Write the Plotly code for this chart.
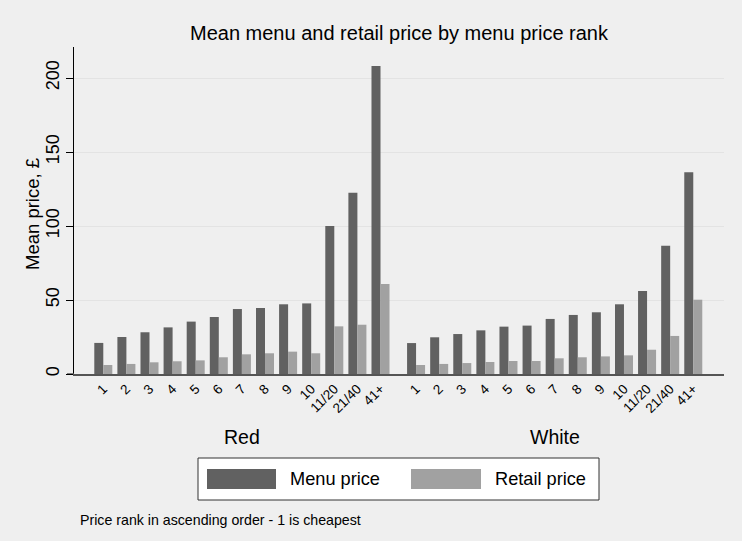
import plotly.graph_objects as go

# Price-rank categories shown along the axis
ranks = ["1", "2", "3", "4", "5", "6", "7", "8", "9", "10", "11/20", "21/40", "41+"]
groups = ["Red", "White"]

# Mean prices (£) by menu price rank
menu_red = [21.0, 25.0, 28.2, 31.5, 35.4, 38.5, 43.9, 44.6, 47.1, 47.7, 100.0, 122.5, 208.1]
retail_red = [6.1, 6.8, 7.9, 8.6, 9.2, 11.3, 13.3, 14.0, 15.1, 14.0, 32.2, 33.3, 60.8]
menu_white = [20.9, 24.8, 27.0, 29.5, 32.0, 32.7, 37.2, 39.9, 41.7, 47.1, 56.1, 86.7, 136.3]
retail_white = [6.1, 6.8, 7.4, 8.1, 8.8, 8.8, 10.6, 11.3, 11.9, 12.6, 16.4, 25.7, 50.2]

MENU_COLOR = "#616161"
RETAIL_COLOR = "#a1a1a1"
BG = "#efefef"
FONT = "Liberation Sans, Arial, Helvetica, sans-serif"

W, H = 742, 541
M_L, M_R, M_T, M_B = 74, 18, 47, 167
PW, PH = W - M_L - M_R, H - M_T - M_B

# the second group starts a little more than one slot after the first
GROUP_OFFSET = len(ranks) + 0.54
pos_red = [i for i in range(len(ranks))]
pos_white = [GROUP_OFFSET + i for i in range(len(ranks))]
x_all = pos_red + pos_white


def px_x(px):
    return (px - M_L) / PW


def px_y(py):
    return (H - M_B - py) / PH


fig = go.Figure()
fig.add_trace(go.Bar(x=x_all, y=menu_red + menu_white, name="Menu price",
                     marker=dict(color=MENU_COLOR, line=dict(width=0))))
fig.add_trace(go.Bar(x=x_all, y=retail_red + retail_white, name="Retail price",
                     marker=dict(color=RETAIL_COLOR, line=dict(width=0))))

annotations = []
# group labels under each block of bars
for name, pos in zip(groups, [pos_red, pos_white]):
    annotations.append(dict(x=(pos[0] + pos[-1]) / 2, xref="x", y=px_y(437), yref="paper",
                            text=name, showarrow=False, font=dict(size=19.5, color="black"),
                            xanchor="center", yanchor="middle"))
# y-axis title
annotations.append(dict(x=px_x(32), xref="paper", y=px_y(214), yref="paper",
                        text="Mean price, £", textangle=-90, showarrow=False,
                        font=dict(size=18.5, color="black"), xanchor="center", yanchor="middle"))
# note
annotations.append(dict(x=px_x(78), xref="paper", y=px_y(520), yref="paper",
                        text="Price rank in ascending order - 1 is cheapest", showarrow=False,
                        font=dict(size=14.2, color="black"), xanchor="left", yanchor="middle"))

# legend box drawn by hand so the keys are wide rectangles
shapes = [
    dict(type="rect", xref="paper", yref="paper", x0=px_x(198), x1=px_x(599),
         y0=px_y(500), y1=px_y(458), line=dict(color="#333333", width=1), fillcolor="white"),
    dict(type="rect", xref="paper", yref="paper", x0=px_x(207), x1=px_x(276),
         y0=px_y(489), y1=px_y(469), line=dict(width=0), fillcolor=MENU_COLOR),
    dict(type="rect", xref="paper", yref="paper", x0=px_x(411), x1=px_x(481),
         y0=px_y(489), y1=px_y(469), line=dict(width=0), fillcolor=RETAIL_COLOR),
    # baseline continues under the y-axis tick stub
    dict(type="line", xref="paper", yref="y", x0=px_x(67), x1=0, y0=0, y1=0,
         line=dict(color="#555555", width=1.5)),
]
annotations.append(dict(x=px_x(288), xref="paper", y=px_y(479), yref="paper",
                        text="Menu price", showarrow=False, font=dict(size=18.2, color="black"),
                        xanchor="left", yanchor="middle"))
annotations.append(dict(x=px_x(493), xref="paper", y=px_y(479), yref="paper",
                        text="Retail price", showarrow=False, font=dict(size=18.2, color="black"),
                        xanchor="left", yanchor="middle"))

pitch = 23.1
fig.update_layout(
    width=W, height=H,
    margin=dict(l=M_L, r=M_R, t=M_T, b=M_B),
    paper_bgcolor=BG, plot_bgcolor=BG,
    font=dict(family=FONT, color="black"),
    barmode="group", bargap=0.22, bargroupgap=0,
    showlegend=False,
    title=dict(text="Mean menu and retail price by menu price rank",
               x=399 / W, xanchor="center", y=1 - 33 / H, yanchor="middle",
               font=dict(size=20, color="black")),
    xaxis=dict(range=[(M_L - 103.3) / pitch, (M_L + PW - 103.3) / pitch],
               tickmode="array", tickvals=x_all, ticktext=ranks + ranks,
               tickangle=-45, tickfont=dict(size=13.5, color="black"), ticks="",
               showline=True, linecolor="#555555", linewidth=1.5,
               showgrid=False, zeroline=False, fixedrange=True),
    yaxis=dict(range=[0, (H - M_B - M_T) / 1.48],
               tickvals=[0, 50, 100, 150, 200], tickangle=-90,
               tickfont=dict(size=18, color="black"),
               ticks="outside", ticklen=7, tickcolor="black", tickwidth=1,
               showline=True, linecolor="black", linewidth=1,
               showgrid=True, gridcolor="#e3e3e3", gridwidth=1,
               zeroline=False, fixedrange=True),
    annotations=annotations,
    shapes=shapes,
)

fig.write_html("out.html")
